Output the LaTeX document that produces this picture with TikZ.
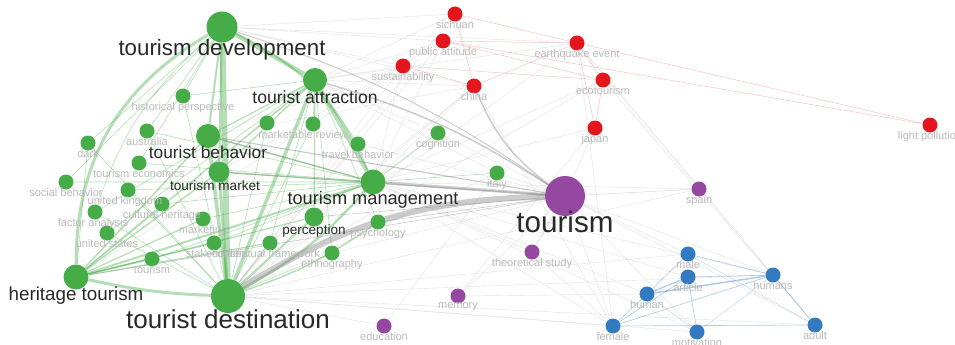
\documentclass[tikz,border=0pt]{standalone}
\usepackage{fontspec}
\setmainfont{Liberation Sans}
\usepackage{tikz}
\usetikzlibrary{positioning, backgrounds}

\definecolor{kwgreen}{RGB}{70,172,72}
\definecolor{kwred}{RGB}{226,22,28}
\definecolor{kwpurple}{RGB}{148,72,160}
\definecolor{kwblue}{RGB}{52,122,192}
\definecolor{labdark}{RGB}{40,40,40}
\definecolor{labfaint}{RGB}{185,185,185}

\begin{document}
\begin{tikzpicture}[
        x=1pt, y=-1pt,
        kw/.style={circle, inner sep=0pt, minimum size=#1}, kw/.default=15pt,
        gkw/.style={kw=#1, fill=kwgreen}, gkw/.default=15pt,
        rkw/.style={kw=#1, fill=kwred}, rkw/.default=15pt,
        pkw/.style={kw=#1, fill=kwpurple}, pkw/.default=15pt,
        bkw/.style={kw=#1, fill=kwblue}, bkw/.default=15pt,
        big/.style={inner sep=0pt, text=labdark, font=\fontsize{#1}{#1}\selectfont}, big/.default=18,
        small/.style={inner sep=0pt, text=labfaint, font=\fontsize{11}{11}\selectfont},
        gl/.style={draw=kwgreen, draw opacity=.4, line width=#1}, gl/.default=.6pt,
        grl/.style={draw=black!50, draw opacity=.4, line width=#1}, grl/.default=1pt,
        fl/.style={draw=black!12, line width=.4pt},
        rl/.style={draw=kwred, draw opacity=.25, line width=.5pt},
        bl/.style={draw=kwblue, draw opacity=.4, line width=#1}, bl/.default=.6pt,
        pl/.style={draw=kwpurple, draw opacity=.25, line width=.5pt},
        node distance=0pt
    ]
    \useasboundingbox (0,0) rectangle (955,345);
    \clip (0,0) rectangle (955,345);

    % Green cluster
    \node[gkw=31pt] (tdev) at (222,27) {};
    \node[gkw=24pt] (tattr) at (315,80) {};
    \node[gkw] (persp) at (183,96) {};
    \node[gkw] (austr) at (147,131) {};
    \node[gkw] (dark) at (88,143) {};
    \node[gkw=24pt] (tbeh) at (208,136) {};
    \node[gkw] (tecon) at (139,163) {};
    \node[gkw=21pt] (tmkt) at (219,172) {};
    \node[gkw] (socbeh) at (66,182) {};
    \node[gkw] (ukd) at (128,190) {};
    \node[gkw] (cultur) at (162,204) {};
    \node[gkw] (factor) at (95,212) {};
    \node[gkw] (mktg) at (203,219) {};
    \node[gkw] (usa) at (107,233) {};
    \node[gkw] (stake) at (214,243) {};
    \node[gkw] (tourg) at (152,259) {};
    \node[gkw] (concept) at (270,243) {};
    \node[gkw=25pt] (htour) at (76,277) {};
    \node[gkw=34pt] (tdest) at (228,296) {};
    \node[gkw] (mrevA) at (267,123) {};
    \node[gkw] (mrev) at (313,124) {};
    \node[gkw] (travb) at (358,144) {};
    \node[gkw] (cogn) at (438,133) {};
    \node[gkw=25pt] (tmgmt) at (373,182) {};
    \node[gkw=19pt] (perc) at (314,217) {};
    \node[gkw] (psych) at (378,222) {};
    \node[gkw] (ethno) at (332,253) {};
    \node[gkw] (italy) at (497,173) {};

    % Red cluster
    \node[rkw] (sichuan) at (455,14) {};
    \node[rkw] (pubatt) at (443,41) {};
    \node[rkw] (sustain) at (403,66) {};
    \node[rkw] (china) at (474,86) {};
    \node[rkw] (quake) at (577,43) {};
    \node[rkw] (ecotour) at (603,80) {};
    \node[rkw] (japan) at (595,128) {};
    \node[rkw] (light) at (930,125) {};

    % Purple cluster
    \node[pkw=40pt] (tourism) at (565,196) {};
    \node[pkw] (spain) at (699,189) {};
    \node[pkw] (theory) at (532,252) {};
    \node[pkw] (memory) at (458,296) {};
    \node[pkw] (educ) at (384,326) {};

    % Blue cluster
    \node[bkw] (male) at (688,254) {};
    \node[bkw] (article) at (688,277) {};
    \node[bkw] (human) at (647,294) {};
    \node[bkw] (humans) at (773,275) {};
    \node[bkw] (female) at (613,326) {};
    \node[bkw] (motiv) at (697,332) {};
    \node[bkw] (adult) at (815,325) {};

    % Labels
    \node[big=22.3, below=-4pt of tdev] (tdevl) {tourism development};
    \node[big=17.6, below=-2pt of tattr] (tattrl) {tourist attraction};
    \node[big=17.3, below=-2pt of tbeh] (tbehl) {tourist behavior};
    \node[big=13.6, below=-2pt of tmkt, xshift=-4pt] (tmktl) {tourism market};
    \node[big=18.8, below=-3pt of htour] (htourl) {heritage tourism};
    \node[big=26, below=-4pt of tdest] (tdestl) {tourist destination};
    \node[big=18.2, below=-4pt of tmgmt] (tmgmtl) {tourism management};
    \node[big=13.5, below=-2pt of perc] (percl) {perception};
    \node[big=29.6, below=-5pt of tourism] (tourisml) {tourism};

    \node[small, below=-1pt of persp] (perspl) {historical perspective};
    \node[small, below=-1pt of austr] (austrl) {australia};
    \node[small, below=-1pt of dark] (darkl) {dark};
    \node[small, below=-1pt of tecon] (teconl) {tourism economics};
    \node[small, below=-1pt of socbeh] (socbehl) {social behavior};
    \node[small, below=-1pt of ukd, xshift=-3pt] (ukdl) {united kingdom};
    \node[small, below=-1pt of cultur] (culturl) {cultural heritage};
    \node[small, below=-1pt of factor, xshift=-2pt] (factorl) {factor analysis};
    \node[small, below=-1pt of mktg] (mktgl) {marketing};
    \node[small, below=-1pt of usa] (usal) {united states};
    \node[small, below=-1pt of stake, xshift=3pt] (stakel) {stakeholders};
    \node[small, below=-1pt of tourg] (tourgl) {tourism};
    \node[small, below=-1pt of concept, xshift=-4pt] (conceptl) {conceptual framework};
    \node[small, below=-1pt of mrev, xshift=-10pt] (mrevl) {marketable review};
    \node[small, below=-1pt of travb] (travbl) {travel behavior};
    \node[small, below=-1pt of cogn] (cognl) {cognition};
    \node[small, below=-1pt of psych] (psychl) {psychology};
    \node[small, below=-1pt of ethno] (ethnol) {ethnography};
    \node[small, below=-1pt of italy] (italyl) {italy};
    \node[small, below=-1pt of sichuan] (sichuanl) {sichuan};
    \node[small, below=-1pt of pubatt] (pubattl) {public attitude};
    \node[small, below=-1pt of sustain] (sustainl) {sustainability};
    \node[small, below=-1pt of china] (chinal) {china};
    \node[small, below=-1pt of quake] (quakel) {earthquake event};
    \node[small, below=-1pt of ecotour] (ecotourl) {ecotourism};
    \node[small, below=-1pt of japan] (japanl) {japan};
    \node[small, below=-1pt of light] (lightl) {light pollution};
    \node[small, below=-1pt of spain] (spainl) {spain};
    \node[small, below=-1pt of theory] (theoryl) {theoretical study};
    \node[small, below=-1pt of memory] (memoryl) {memory};
    \node[small, below=-1pt of educ] (educl) {education};
    \node[small, below=-1pt of male] (malel) {male};
    \node[small, below=-1pt of article] (articlel) {article};
    \node[small, below=-1pt of human] (humanl) {human};
    \node[small, below=-1pt of humans] (humansl) {humans};
    \node[small, below=-1pt of female] (femalel) {female};
    \node[small, below=-1pt of motiv] (motivl) {motivation};
    \node[small, below=-1pt of adult] (adultl) {adult};

    % Links
    \begin{scope}[on background layer]
    % faint links
    \draw[fl] (tdev) -- (sichuan) (tdev) -- (pubatt) (tdev) -- (quake) (tdev) -- (china) (tdev) -- (sustain);
    \draw[fl] (tattr) -- (sustain) (tattr) -- (china) (tattr) -- (pubatt) (tattr) -- (sichuan) (tattr) -- (quake);
    \draw[fl] (tmgmt) -- (china) (tmgmt) -- (pubatt) (tmgmt) -- (sustain) (tmgmt) -- (ecotour) (tmgmt) -- (japan);
    \draw[fl] (tbeh) -- (sustain) (tbeh) -- (china) (tdest) -- (china) (tdest) -- (pubatt) (tdest) -- (sustain) (tdest) -- (sichuan);
    \draw[fl] (tdest) -- (quake) (tdest) -- (ecotour) (htour) -- (sustain) (tmkt) -- (pubatt) (perc) -- (china);
    \draw[fl] (female) -- (tdest) (female) -- (tmgmt) (human) -- (tmgmt) (humans) -- (tmgmt) (adult) -- (tdest);
    \draw[fl] (motiv) -- (tmgmt) (motiv) -- (tdest) (male) -- (tdest) (article) -- (tmgmt) (humans) -- (tdest);
    \draw[fl] (adult) -- (tourism) (humans) -- (tourism) (female) -- (tourism) (male) -- (tourism) (motiv) -- (tourism);
    \draw[fl] (spain) -- (tmgmt) (spain) -- (tdest) (ecotour) -- (adult) (quake) -- (adult);
    \draw[fl] (memory) -- (tourism) (memory) -- (japan) (memory) -- (human) (educ) -- (italy) (educ) -- (tdest);
    \draw[fl] (tourism) -- (cogn) (tourism) -- (japan) (tourism) -- (travb) (tourism) -- (italy) (tourism) -- (ethno);
    \draw[fl] (theory) -- (tmgmt) (theory) -- (female) (quake) -- (humans) (quake) -- (female) (china) -- (female);
    \draw[fl] (cogn) -- (tdest) (cogn) -- (tattr) (italy) -- (tdest) (italy) -- (tattr) (travb) -- (tdest);
    % green small links
    \draw[gl] (persp) -- (tdev) (persp) -- (tdest) (austr) -- (tdest) (austr) -- (tdev) (dark) -- (tdev) (dark) -- (htour);
    \draw[gl] (tecon) -- (tmgmt) (tecon) -- (tdev) (socbeh) -- (tmgmt) (socbeh) -- (tdev) (ukd) -- (tdest) (ukd) -- (tmgmt);
    \draw[gl] (cultur) -- (tmgmt) (cultur) -- (htour) (factor) -- (tattr) (factor) -- (tdest) (mktg) -- (tmgmt) (usa) -- (tdest);
    \draw[gl] (usa) -- (tattr) (stake) -- (tmgmt) (tourg) -- (tmgmt) (concept) -- (tdest) (concept) -- (tattr) (psych) -- (tattr);
    \draw[gl] (ethno) -- (tdest) (ethno) -- (tattr) (mrevA) -- (tdest) (mrev) -- (tattr) (mrev) -- (tdest) (travb) -- (tattr);
    \draw[gl] (italy) -- (tmgmt) (cogn) -- (tmgmt) (persp) -- (tattr) (austr) -- (tmgmt) (dark) -- (tdest);
    \draw[gl] (tdev) to[bend right=15] (factor);
    % green main links
    \draw[gl=6pt] (tdev) -- (tdest);
    \draw[gl=4pt] (tdev) -- (tattr);
    \draw[gl=4pt] (tattr) -- (tmgmt);
    \draw[gl=3.5pt] (tattr) -- (tdest);
    \draw[gl=3pt] (tdev) to[bend right=30] (htour);
    \draw[gl=3pt] (htour) to[bend right=5] (tdest);
    \draw[gl=3.5pt] (tbeh) -- (tdest);
    \draw[gl=3pt] (tmkt) -- (tdest);
    \draw[gl=2.5pt] (tdest) to[bend right=10] (tmgmt);
    \draw[gl=2pt] (htour) -- (tmgmt);
    \draw[gl=2pt] (tdev) -- (tbeh); \draw[gl=2pt] (tdev) -- (tmkt);
    \draw[gl=2pt] (tdev) to[bend left=20] (tmgmt);
    \draw[gl=1.5pt] (tbeh) -- (tmgmt); \draw[gl=1.5pt] (tmkt) -- (tmgmt);
    \draw[gl=1.5pt] (htour) -- (tbeh); \draw[gl=1.5pt] (htour) -- (tmkt);
    \draw[gl=1.5pt] (htour) -- (tattr); \draw[gl=2pt] (tdest) -- (perc);
    \draw[gl=1.5pt] (tdest) to[bend right=8] (psych);
    \draw[gl=1.2pt] (tbeh) -- (tattr); \draw[gl=1.2pt] (tmkt) -- (tattr);
    \draw[gl=1.2pt] (htour) -- (tourg); \draw[gl=1.2pt] (htour) -- (stake);
    \draw[gl=1.2pt] (htour) -- (mktg); \draw[gl=1.2pt] (htour) -- (concept);
    \draw[gl=1.2pt] (htour) -- (perc); \draw[gl=1.2pt] (perc) -- (tattr);
    % grey links to tourism
    \draw[grl=6pt] (tourism) to[bend right=15] (tdest);
    \draw[grl=3pt] (tourism) -- (tmgmt);
    \draw[grl=1.5pt] (tourism) to[bend right=8] (tattr);
    \draw[grl] (tourism) to[bend right=8] (tdev);
    \draw[grl=1.2pt] (tourism) -- (tbeh);
    \draw[grl] (tourism) -- (tmkt);
    \draw[grl=1.5pt] (china) to[bend right=15] (tourism);
    \draw[grl=.6pt] (tourism) -- (htour) (tourism) -- (perc) (tourism) -- (psych);
    \draw[grl=.8pt] (tbeh) -- (tmgmt);
    % red links
    \draw[rl] (sichuan) -- (china) (sichuan) -- (quake) (pubatt) -- (quake) (pubatt) -- (ecotour) (sustain) -- (ecotour);
    \draw[rl] (china) -- (quake) (quake) -- (ecotour) (quake) -- (japan) (ecotour) -- (japan) (sustain) -- (china);
    \draw[rl] (quake) -- (light) (pubatt) -- (light);
    % purple links
    \draw[pl] (tourism) -- (theory) (tourism) -- (spain);
    % blue links
    \draw[bl=1.5pt] (human) -- (humans);
    \draw[bl=1.2pt] (human) -- (article);
    \draw[bl] (article) -- (humans) (human) -- (male) (female) -- (humans) (female) -- (article) (female) -- (human);
    \draw[bl] (motiv) -- (article) (humans) -- (adult) (male) -- (humans) (female) -- (adult);
    \draw[bl=.3pt] (human) -- (motiv) (humans) -- (motiv) (adult) -- (male);
    \end{scope}
\end{tikzpicture}
\end{document}
